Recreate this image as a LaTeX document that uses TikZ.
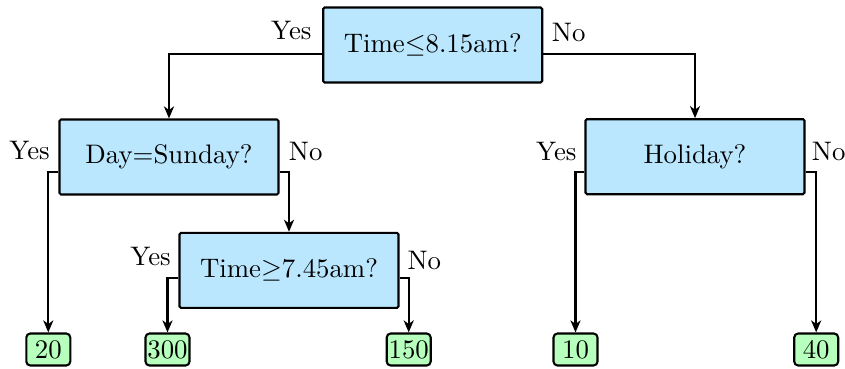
\documentclass[tikz,border=0pt]{standalone}
\usepackage{graphicx}
\usetikzlibrary{arrows.meta,calc}
\definecolor{testblue}{RGB}{186,231,254}
\definecolor{leafgreen}{RGB}{183,255,189}
% text is set at 10pt and enlarged, keeping the 10pt design of the font
\newcommand{\tlabel}[1]{\scalebox{2.68}{#1}}
\begin{document}
\begin{tikzpicture}[x=1pt,y=-1pt,
  font=\fontsize{10}{12}\selectfont,
  test/.style={draw, line width=2.1pt, fill=testblue, rounded corners=1.5pt,
    minimum width=219pt, minimum height=75pt, inner sep=0pt},
  leaf/.style={draw, line width=2.1pt, fill=leafgreen, rounded corners=4pt,
    minimum width=44pt, minimum height=32pt, inner sep=1pt},
  edge/.style={line width=2.1pt, -{Stealth[length=12pt,width=10pt,inset=3.5pt]}},
  lbl/.style={inner sep=0pt}]
\useasboundingbox (0,0) rectangle (845,369);

% decision nodes
\node[test] (root) at (432.7,45)  {\tlabel{Time$\leq$8.15am?}};
\node[test] (day)  at (169,157)   {\tlabel{Day=Sunday?}};
\node[test] (hol)  at (695,156.7) {\tlabel{Holiday?}};
\node[test] (late) at (289,270.3) {\tlabel{Time$\geq$7.45am?}};

% leaves
\node[leaf] (l20)  at (48.3,349.5)  {\tlabel{20}};
\node[leaf] (l300) at (167.5,349.5) {\tlabel{300}};
\node[leaf] (l150) at (408.7,349.5) {\tlabel{150}};
\node[leaf] (l10)  at (575.5,349.5) {\tlabel{10}};
\node[leaf] (l40)  at (816.2,349.5) {\tlabel{40}};

% branches
\draw[edge] ($(root.west)+(0,9)$) -| (day.north);
\draw[edge] ($(root.east)+(0,9)$) -| (hol.north);
\draw[edge] ($(day.west)+(0,15.3)$) -| (l20.north);
\draw[edge] ($(day.east)+(0,15.3)$) -| (late.north);
\draw[edge] ($(late.west)+(0,8)$) -| (l300.north);
\draw[edge] ($(late.east)+(0,8)$) -| (l150.north);
\draw[edge] ($(hol.west)+(0,15.6)$) -| (l10.north);
\draw[edge] ($(hol.east)+(0,15.6)$) -| (l40.north);

% branch labels
\node[lbl, anchor=base east] (ry) at (311.7,40)  {\tlabel{Yes}};
\node[lbl, anchor=base west] (rn) at (551.7,41.5) {\tlabel{No}};
\node[lbl, anchor=base east] (dy) at (50,159.3)  {\tlabel{Yes}};
\node[lbl, anchor=base west] (dn) at (288.7,160) {\tlabel{No}};
\node[lbl, anchor=base east] (ly) at (171,265.5) {\tlabel{Yes}};
\node[lbl, anchor=base west] (ln) at (407.3,269.3) {\tlabel{No}};
\node[lbl, anchor=base east] (hy) at (576.7,160) {\tlabel{Yes}};
\node[lbl, anchor=base west] (hn) at (811.7,160) {\tlabel{No}};
\end{tikzpicture}
\end{document}
